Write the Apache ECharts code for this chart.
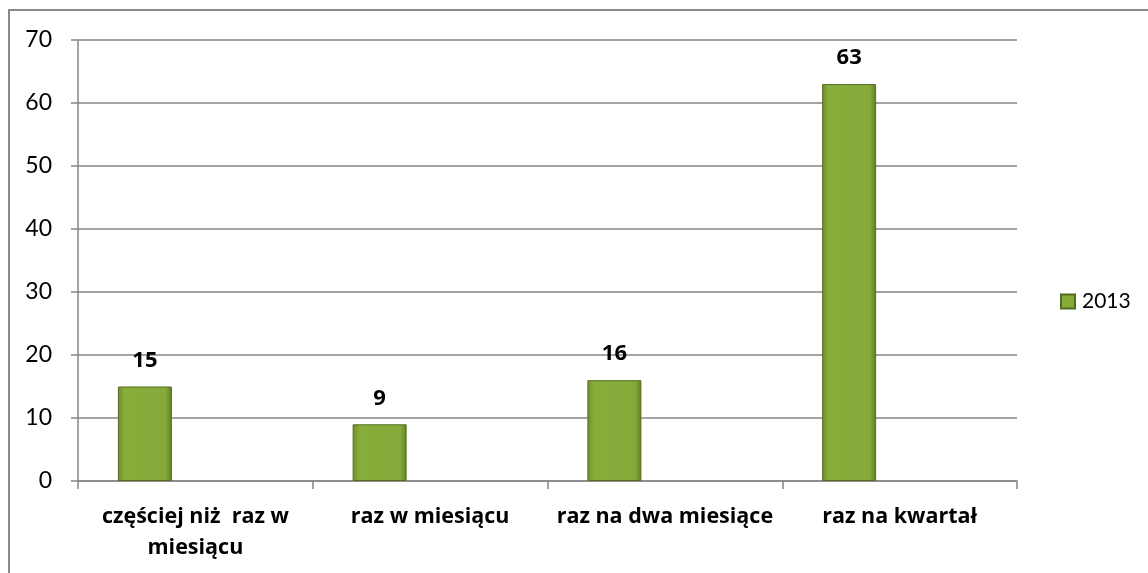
<!DOCTYPE html>
<html>
<head>
<meta charset="utf-8">
<script src="https://cdn.jsdelivr.net/npm/echarts@6/dist/echarts.min.js"></script>
<style>
    html, body { margin: 0; padding: 0; background: #fff; }
    #frame { position: absolute; left: 8px; top: 9px; width: 1200px; height: 700px; border-left: 2px solid #8a8a8a; border-top: 2px solid #8a8a8a; }
    #chart { position: absolute; left: 0; top: 0; width: 1148px; height: 573px; }
</style>
</head>
<body>
<div id="frame"></div>
<div id="chart"></div>
<script>
var categories = ['częściej niż  raz w\nmiesiącu', 'raz w miesiącu', 'raz na dwa miesiące', 'raz na kwartał']
var values2013 = [15, 9, 16, 63]
var yTicks = [0, 10, 20, 30, 40, 50, 60, 70]

var chart = echarts.init(document.getElementById('chart'))
chart.setOption({
    animation: false,
    textStyle: { fontFamily: 'Lato' },
    grid: { left: 78, right: 131, top: 40, bottom: 92 },
    legend: {
        data: ['2013'],
        left: 1055,
        top: 286,
        icon: 'rect',
        itemWidth: 14,
        itemHeight: 14,
        itemGap: 4,
        textStyle: { fontSize: 21, color: '#000', fontFamily: 'Lato', padding: [0, 0, 0, 2] }
    },
    xAxis: {
        type: 'category',
        data: categories,
        axisLine: { lineStyle: { color: '#868686', width: 1.5 } },
        axisTick: { show: true, length: 8, lineStyle: { color: '#868686', width: 1.5 } },
        axisLabel: {
            interval: 0,
            margin: 20,
            fontSize: 21.5,
            fontWeight: 'bold',
            color: '#000',
            lineHeight: 31,
            fontFamily: 'Open Sans'
        }
    },
    yAxis: {
        type: 'value',
        min: yTicks[0],
        max: yTicks[yTicks.length - 1],
        interval: 10,
        axisLine: { show: true, lineStyle: { color: '#868686', width: 1.5 } },
        axisTick: { show: true, length: 7, lineStyle: { color: '#868686', width: 1.5 } },
        splitLine: { lineStyle: { color: '#868686', width: 1.5 } },
        axisLabel: { margin: 26, fontSize: 23, color: '#000', fontFamily: 'Lato' }
    },
    series: [
        {
            name: '2013',
            type: 'bar',
            barWidth: 54,
            barGap: '87%',
            data: values2013,
            itemStyle: {
                color: new echarts.graphic.LinearGradient(0, 0, 1, 0, [
                    { offset: 0, color: '#6f8d2d' },
                    { offset: 0.12, color: '#88ad3b' },
                    { offset: 0.88, color: '#86aa39' },
                    { offset: 1, color: '#627f27' }
                ]),
                borderColor: '#556d20',
                borderWidth: 1
            },
            label: {
                show: true,
                position: 'top',
                distance: 15,
                fontSize: 22,
                fontWeight: 'bold',
                color: '#000',
                fontFamily: 'Open Sans'
            }
        },
        {
            name: 'pusta',
            type: 'bar',
            barWidth: 54,
            data: ['-', '-', '-', '-']
        }
    ]
})
</script>
</body>
</html>
